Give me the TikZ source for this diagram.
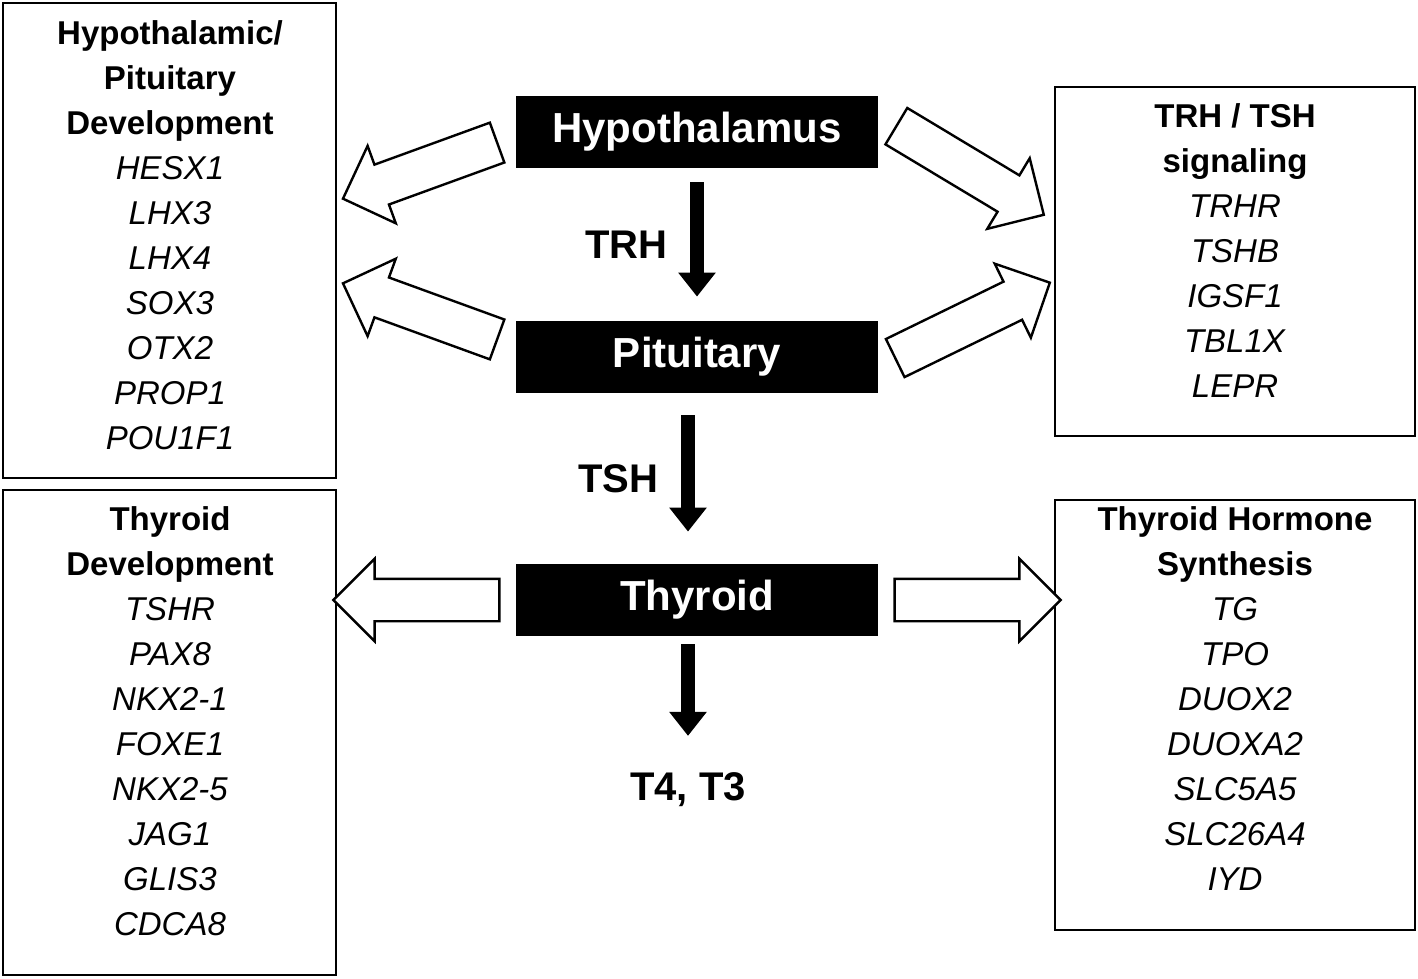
\documentclass[tikz,border=0pt]{standalone}
\usepackage{fontspec}
\setmainfont{Liberation Sans}
\usetikzlibrary{shapes.arrows, arrows.meta}

\begin{document}
\begin{tikzpicture}[x=0.5pt,y=-0.5pt,
  genebox/.style={draw, line width=1pt},
  organ/.style={fill=black, text=white, font=\fontsize{21}{25}\selectfont\bfseries},
  genes/.style={align=center, font=\fontsize{16.5}{22.5}\selectfont},
  hollow/.style={single arrow, draw, line width=1.2pt, fill=white, inner sep=10pt,
    single arrow head extend=10pt, single arrow head indent=0pt},
  flow/.style={line width=7pt, -{Triangle[width=18pt,length=12pt]}},
  lbl/.style={font=\fontsize{20}{24}\selectfont\bfseries}]
\useasboundingbox (0,0) rectangle (1418,979);

% boxes
\draw[genebox] (3,3) rectangle (336,478);
\draw[genebox] (3,490) rectangle (336,975);
\draw[genebox] (1055,87) rectangle (1415,436);
\draw[genebox] (1055,500) rectangle (1415,930);

% gene lists
\node[genes, anchor=north] (hpd) at (170,14) {\textbf{Hypothalamic/}\\\textbf{Pituitary}\\\textbf{Development}\\\textit{HESX1}\\\textit{LHX3}\\\textit{LHX4}\\\textit{SOX3}\\\textit{OTX2}\\\textit{PROP1}\\\textit{POU1F1}};
\node[genes, anchor=north] (td) at (170,500) {\textbf{Thyroid}\\\textbf{Development}\\\textit{TSHR}\\\textit{PAX8}\\\textit{NKX2-1}\\\textit{FOXE1}\\\textit{NKX2-5}\\\textit{JAG1}\\\textit{GLIS3}\\\textit{CDCA8}};
\node[genes, anchor=north] (sig) at (1235,97) {\textbf{TRH / TSH}\\\textbf{signaling}\\\textit{TRHR}\\\textit{TSHB}\\\textit{IGSF1}\\\textit{TBL1X}\\\textit{LEPR}};
\node[genes, anchor=north] (ths) at (1235,500) {\textbf{Thyroid Hormone}\\\textbf{Synthesis}\\\textit{TG}\\\textit{TPO}\\\textit{DUOX2}\\\textit{DUOXA2}\\\textit{SLC5A5}\\\textit{SLC26A4}\\\textit{IYD}};

% organs
\node[organ, minimum width=181pt, minimum height=36pt] (hypo) at (697,132) {Hypothalamus};
\node[organ, minimum width=181pt, minimum height=36pt] (pit) at (697,357) {Pituitary};
\node[organ, minimum width=181pt, minimum height=36pt] (thy) at (697,600) {Thyroid};
\node[lbl] (t4) at (688,790) {T4, T3};

% hormone arrows
\draw[flow, shorten <=7pt, shorten >=12pt] (hypo) -- (pit) node[lbl, midway, left=8pt] {TRH};
\draw[flow, shorten <=11pt, shorten >=16pt] ([xshift=-4.5pt]pit.south) -- ([xshift=-4.5pt]thy.north) node[lbl, midway, left=8pt] {TSH};
\draw[flow, shorten <=4pt, shorten >=15pt] ([xshift=-4.5pt]thy.south) -- (t4);

% hollow arrows
\node[hollow, minimum height=82pt, rotate=200] (a1) at (430,167) {};
\node[hollow, minimum height=82pt, rotate=160] (a2) at (430,315) {};
\node[hollow, minimum height=86pt, rotate=-31] (a3) at (961,165) {};
\node[hollow, minimum height=86pt, rotate=26] (a4) at (963,325) {};
\node[hollow, minimum height=83pt, rotate=180] (a5) at (427,600) {};
\node[hollow, minimum height=83pt] (a6) at (967,600) {};
\end{tikzpicture}
\end{document}
